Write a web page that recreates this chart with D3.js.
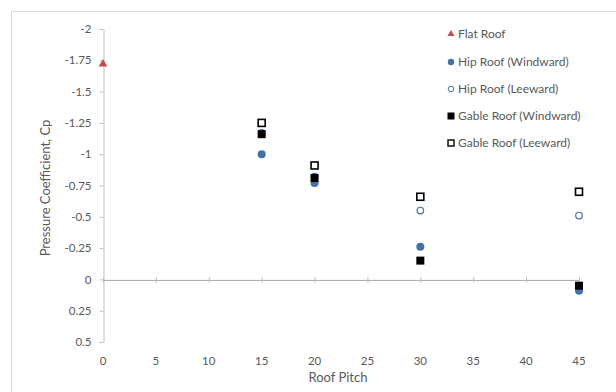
<!DOCTYPE html>
<html><head><meta charset="utf-8">
<script src="https://cdn.jsdelivr.net/npm/d3@7"></script>
<style>body{margin:0;background:#fff}svg{display:block}text{font-family:Lato,"Open Sans",sans-serif;fill:#595959}</style>
</head><body>
<script>
const seriesNames = ["Flat Roof","Hip Roof (Windward)","Hip Roof (Leeward)","Gable Roof (Windward)","Gable Roof (Leeward)"];
const flatX = [0];
const flatY = [-1.72];
const pitchX = [15,20,30,45];
const hipWindward = [-1.0,-0.77,-0.26,0.09];
const hipLeeward = [-1.17,-0.82,-0.55,-0.51];
const gableWindward = [-1.16,-0.81,-0.15,0.05];
const gableLeeward = [-1.25,-0.91,-0.66,-0.70];
const xTicks = [0,5,10,15,20,25,30,35,40,45];
const yTicks = [-2,-1.75,-1.5,-1.25,-1,-0.75,-0.5,-0.25,0,0.25,0.5];

const W=616,H=392;
const svg=d3.select("body").append("svg").attr("width",W).attr("height",H);
svg.append("rect").attr("x",11.5).attr("y",11.5).attr("width",700).attr("height",500)
  .attr("fill","#fff").attr("stroke","#d9d9d9");

const x=d3.scaleLinear().domain([0,45]).range([103,579]);
const y=d3.scaleLinear().domain([-2,0.5]).range([29,342]);

// y axis
const yAx=svg.append("g").attr("transform","translate(103.5,0)")
  .call(d3.axisLeft(y).tickValues(yTicks).tickSize(4).tickSizeOuter(0).tickFormat(d=>String(d)));
yAx.select(".domain").attr("stroke","#bfbfbf");
yAx.selectAll(".tick line").attr("stroke","#bfbfbf");
yAx.selectAll(".tick text").attr("font-size",11.5).attr("fill","#595959").attr("x",-12);

// x axis line at y=0 with ticks
const xAx=svg.append("g").attr("transform",`translate(0,${y(0)+0.5})`)
  .call(d3.axisBottom(x).tickValues(xTicks).tickSize(0).tickSizeOuter(0).tickFormat(""));
xAx.select(".domain").attr("stroke","#a6a6a6");
xAx.selectAll(".tick line").remove();
xAx.selectAll(".tick").append("line").attr("y1",-3).attr("y2",3).attr("stroke","#bfbfbf");
// x labels low
svg.append("g").selectAll("text").data(xTicks).join("text")
  .attr("x",d=>x(d)).attr("y",365).attr("text-anchor","middle").attr("font-size",11.5).text(d=>d);

svg.append("text").attr("x",338).attr("y",382).attr("text-anchor","middle").attr("font-size",13).text("Roof Pitch");
svg.append("text").attr("transform","translate(50,188) rotate(-90)").attr("text-anchor","middle").attr("font-size",13).text("Pressure Coefficient, Cp");

const blue="#4472a8", red="#c0504d";
const tri=d3.symbol().type(d3.symbolTriangle).size(34);
svg.append("g").selectAll("path").data(flatX.map((d,i)=>[d,flatY[i]])).join("path")
  .attr("d",tri).attr("transform",d=>`translate(${x(d[0])},${y(d[1])})`).attr("fill",red);
svg.append("g").selectAll("circle").data(pitchX.map((d,i)=>[d,hipWindward[i]])).join("circle")
  .attr("cx",d=>x(d[0])).attr("cy",d=>y(d[1])).attr("r",4).attr("fill",blue);
svg.append("g").selectAll("circle").data(pitchX.map((d,i)=>[d,hipLeeward[i]])).join("circle")
  .attr("cx",d=>x(d[0])).attr("cy",d=>y(d[1])).attr("r",3.3).attr("fill","#fff").attr("stroke",blue).attr("stroke-width",1.2);
svg.append("g").selectAll("rect").data(pitchX.map((d,i)=>[d,gableWindward[i]])).join("rect")
  .attr("x",d=>x(d[0])-4).attr("y",d=>y(d[1])-4).attr("width",8).attr("height",8).attr("fill","#000");
svg.append("g").selectAll("rect").data(pitchX.map((d,i)=>[d,gableLeeward[i]])).join("rect")
  .attr("x",d=>x(d[0])-3.5).attr("y",d=>y(d[1])-3.5).attr("width",7).attr("height",7).attr("fill","#fff").attr("stroke","#000").attr("stroke-width",1.6);

// legend
const lg=svg.append("g");
const ly=[34,62,89,116,143];
seriesNames.forEach((n,i)=>{
  const g=lg.append("g").attr("transform",`translate(451,${ly[i]})`);
  if(i===0) g.append("path").attr("d",d3.symbol().type(d3.symbolTriangle).size(22)).attr("fill",red);
  if(i===1) g.append("circle").attr("r",3.2).attr("fill",blue);
  if(i===2) g.append("circle").attr("r",2.8).attr("fill","#fff").attr("stroke",blue).attr("stroke-width",1);
  if(i===3) g.append("rect").attr("x",-3.5).attr("y",-3.5).attr("width",7).attr("height",7).attr("fill","#000");
  if(i===4) g.append("rect").attr("x",-3).attr("y",-3).attr("width",6).attr("height",6).attr("fill","#fff").attr("stroke","#000").attr("stroke-width",1.4);
  g.append("text").attr("x",7).attr("y",4).attr("font-size",12).text(n);
});
</script>
</body></html>
